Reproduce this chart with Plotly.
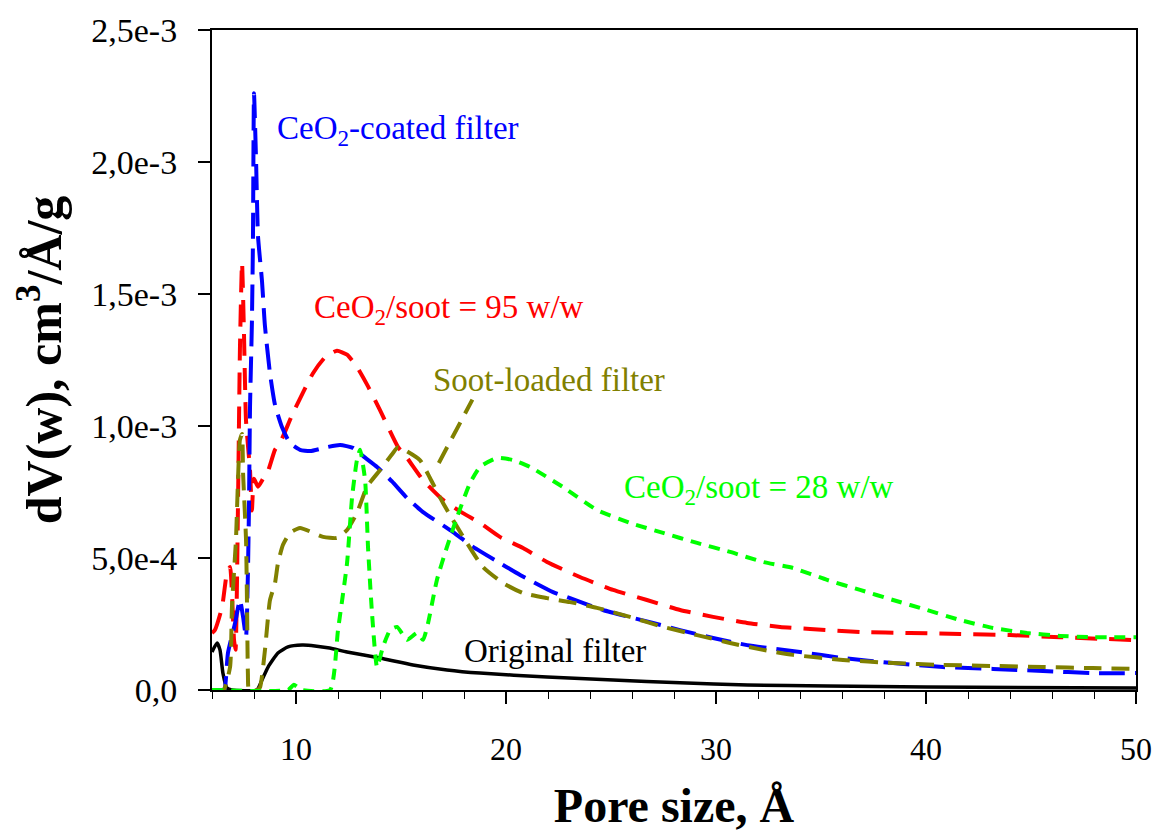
import plotly.graph_objects as go

# ---------------- data (pore size in Å, dV(w) in 1e-3 cm3/Å/g) ----------------
orig_x = [6.00, 6.24, 6.38, 6.52, 6.71, 6.95, 8.14, 8.38, 8.67, 9.14, 9.62, 10.29, 10.90,
          11.6, 12.43, 14.0, 15.57, 17.19, 18.76, 21.95, 25.1, 28.29, 31.5, 35.3, 40.0, 50.0]
orig_y = [0.144, 0.178, 0.152, 0.064, 0.008, 0.0, 0.0, 0.038, 0.087, 0.140, 0.163, 0.170, 0.167,
          0.159, 0.144, 0.121, 0.095, 0.076, 0.064, 0.049, 0.038, 0.027, 0.019, 0.015, 0.011, 0.008]

coated_x = [6.0, 6.55, 6.62, 6.76, 7.10, 7.33, 7.48, 7.62, 7.71, 7.76, 7.81, 7.90, 7.95, 8.00,
            8.10, 8.19, 8.38, 8.52, 8.76, 9.0, 9.33, 9.71, 10.19, 10.67, 11.48, 12.10, 12.71,
            13.29, 13.86, 14.57, 15.29, 16.05, 17.48, 18.43, 19.71, 20.67, 22.24, 23.05, 24.62,
            27.0, 28.29, 29.86, 31.48, 34.0, 36.05, 38.43, 40.81, 43.19, 45.57, 47.95, 50.0]
coated_y = [0.0, 0.0, 0.01, 0.140, 0.254, 0.341, 0.277, 0.200, 0.443, 0.69, 1.07, 1.39, 1.70, 2.26,
            2.00, 1.72, 1.55, 1.38, 1.20, 1.08, 0.996, 0.936, 0.910, 0.905, 0.920, 0.928, 0.917,
            0.880, 0.845, 0.790, 0.727, 0.674, 0.598, 0.542, 0.481, 0.436, 0.371, 0.348, 0.303,
            0.254, 0.227, 0.197, 0.170, 0.144, 0.121, 0.102, 0.087, 0.080, 0.072, 0.064, 0.064]

ce95_x = [6.0, 6.14, 6.48, 6.71, 6.86, 6.95, 7.05, 7.12, 7.24, 7.33, 7.43, 7.52, 7.62, 7.81,
          7.90, 8.0, 8.19, 8.43, 8.67, 9.0, 9.24, 9.86, 10.81, 11.38, 11.95, 12.43, 12.9, 13.43,
          14.0, 14.86, 15.29, 16.05, 17.0, 17.95, 18.76, 19.71, 20.81, 21.95, 23.52, 25.1,
          26.71, 28.29, 29.86, 31.48, 33.05, 34.48, 36.86, 39.24, 41.62, 44.0, 46.38, 50.0]
ce95_y = [0.216, 0.227, 0.314, 0.443, 0.466, 0.367, 0.189, 0.152, 0.72, 1.29, 1.62, 1.36, 1.02, 0.833,
          0.68, 0.80, 0.77, 0.80, 0.83, 0.91, 0.936, 1.05, 1.20, 1.26, 1.285, 1.27, 1.224, 1.15,
          1.06, 0.92, 0.879, 0.795, 0.72, 0.67, 0.633, 0.58, 0.538, 0.485, 0.428, 0.379,
          0.341, 0.303, 0.277, 0.254, 0.239, 0.231, 0.220, 0.216, 0.212, 0.208, 0.200, 0.189]

soot_x = [6.0, 6.55, 6.86, 6.95, 7.14, 7.33, 7.43, 7.48, 7.62, 7.67, 7.71, 7.76, 8.14, 8.29,
          8.52, 8.76, 9.0, 9.14, 9.38, 9.71, 10.19, 11.29, 11.95, 12.43, 12.9, 13.38, 14.0,
          14.62, 14.86, 15.9, 16.38, 17.0, 18.14, 18.9, 19.86, 20.81, 21.95, 23.05, 24.33,
          25.9, 27.48, 29.1, 30.67, 32.24, 33.67, 36.05, 38.43, 40.81, 43.19, 45.57, 47.95, 50.0]
soot_y = [0.0, 0.0, 0.087, 0.314, 0.568, 0.947, 0.97, 0.82, 0.57, 0.31, 0.06, 0.0, 0.0, 0.011,
          0.15, 0.34, 0.405, 0.48, 0.55, 0.595, 0.614, 0.58, 0.576, 0.606, 0.67, 0.77, 0.833,
          0.898, 0.92, 0.871, 0.803, 0.708, 0.557, 0.466, 0.405, 0.367, 0.348, 0.333, 0.311,
          0.277, 0.239, 0.208, 0.178, 0.152, 0.133, 0.114, 0.102, 0.095, 0.091, 0.087, 0.083, 0.080]

ce28_x = [6.0, 9.62, 9.9, 10.1, 10.3, 11.62, 12.0, 12.43, 12.67, 12.9, 13.05, 13.29, 13.43, 13.62,
          13.86, 14.14, 14.48, 14.81, 15.29, 15.76, 16.05, 16.29, 16.71, 17.19, 17.67, 18.29,
          18.76, 19.57, 20.33, 21.14, 22.71, 24.33, 25.9, 27.48, 29.1, 30.67, 32.24, 33.67,
          35.29, 36.86, 38.43, 40.05, 41.62, 43.19, 44.81, 46.38, 47.95, 50.0]
ce28_y = [0.0, 0.0, 0.02, 0.01, 0.0, 0.0, 0.227, 0.48, 0.73, 0.87, 0.91, 0.795, 0.54, 0.29,
          0.087, 0.163, 0.227, 0.239, 0.19, 0.216, 0.19, 0.254, 0.417, 0.542, 0.655, 0.784,
          0.845, 0.879, 0.871, 0.845, 0.769, 0.682, 0.633, 0.595, 0.557, 0.523, 0.485, 0.462,
          0.417, 0.379, 0.341, 0.303, 0.265, 0.235, 0.216, 0.205, 0.200, 0.200]

y_tickvals = [0.0, 0.5, 1.0, 1.5, 2.0, 2.5]
y_ticktext = ["0,0", "5,0e-4", "1,0e-3", "1,5e-3", "2,0e-3", "2,5e-3"]
x_tickvals = [10, 20, 30, 40, 50]

SC = 1e-3
OLIVE = "#808000"

fig = go.Figure()

def add(xs, ys, color, dash, width, name):
    fig.add_trace(go.Scatter(
        x=xs, y=[v * SC for v in ys], mode="lines", name=name,
        line=dict(color=color, dash=dash, width=width, shape="spline", smoothing=0.5),
        hoverinfo="skip", showlegend=False))

add(orig_x, orig_y, "black", "solid", 3.5, "Original filter")
add(ce95_x, ce95_y, "#FF0000", "22px,12px", 4, "CeO2/soot = 95 w/w")
add(coated_x, coated_y, "#0000FF", "26px,10px", 4, "CeO2-coated filter")
add(soot_x, soot_y, OLIVE, "18px,10px", 4, "Soot-loaded filter")
add(ce28_x, ce28_y, "#00FF00", "11px,8px", 4, "CeO2/soot = 28 w/w")

# leader line from the soot-loaded label
fig.add_shape(type="line", xref="x", yref="y", x0=16.8, y0=0.86e-3, x1=18.4, y1=1.10e-3,
              line=dict(color=OLIVE, width=4, dash="18px,10px"))

ann_font = "Liberation Serif"
labels = [
    ("CeO<sub>2</sub>-coated filter", 9.0, 2.12e-3, "#0000FF"),
    ("CeO<sub>2</sub>/soot = 95 w/w", 10.76, 1.44e-3, "#FF0000"),
    ("Soot-loaded filter", 16.43, 1.174e-3, OLIVE),
    ("CeO<sub>2</sub>/soot = 28 w/w", 25.52, 0.758e-3, "#00FF00"),
    ("Original filter", 17.9, 0.148e-3, "black"),
]
for txt, x, y, c in labels:
    fig.add_annotation(text=txt, x=x, y=y, xref="x", yref="y", xanchor="left", yanchor="middle",
                       showarrow=False, font=dict(family=ann_font, size=33, color=c))

fig.update_layout(
    width=1156, height=834,
    margin=dict(l=212, r=20, t=30, b=144),
    paper_bgcolor="white", plot_bgcolor="white",
)
fig.update_xaxes(
    range=[6, 50], showgrid=False, zeroline=False, automargin=False,
    showline=True, linecolor="black", linewidth=2, mirror=True,
    tickmode="array", tickvals=x_tickvals,
    ticks="outside", ticklen=12, tickwidth=1.5, tickcolor="black",
    ticklabelstandoff=18,
    tickfont=dict(family="Liberation Serif", size=32, color="black"),
    minor=dict(ticks="outside", ticklen=7, tickwidth=1, tickcolor="black", dtick=2, tick0=0),
    title=dict(text="<b>Pore size, Å</b>", standoff=22,
               font=dict(family="Liberation Serif", size=48, color="black")),
)
fig.update_yaxes(
    range=[0, 2.5e-3], showgrid=False, zeroline=False, automargin=False,
    showline=True, linecolor="black", linewidth=2, mirror=True,
    tickmode="array", tickvals=[v * SC for v in y_tickvals], ticktext=y_ticktext,
    ticks="outside", ticklen=12, tickwidth=1.5, tickcolor="black",
    ticklabelstandoff=14,
    tickfont=dict(family="Liberation Serif", size=34, color="black"),
    title=dict(text="<b>dV(w), cm<sup>3</sup>/Å/g</b>", standoff=14,
               font=dict(family="Liberation Serif", size=50, color="black")),
)

fig.write_html("out.html")
